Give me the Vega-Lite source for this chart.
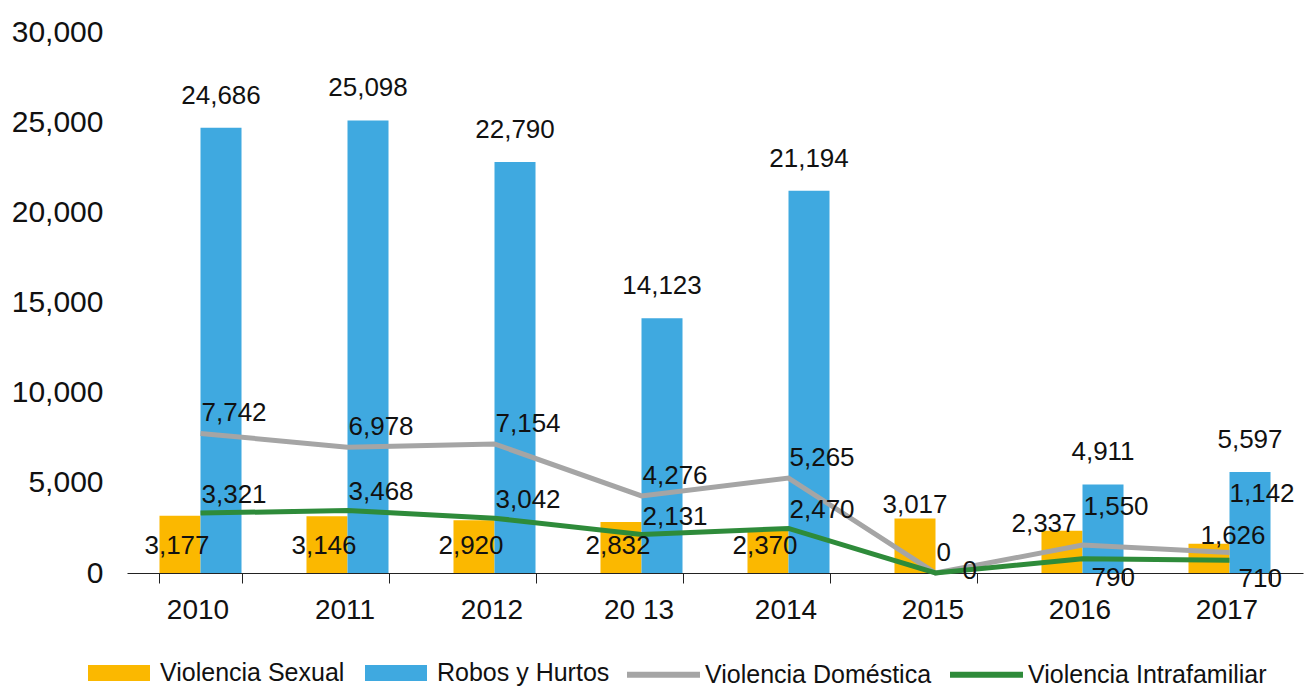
{
  "$schema": "https://vega.github.io/schema/vega-lite/v6.json",
  "width": 1176,
  "height": 541,
  "autosize": {"type": "none"},
  "padding": {"left": 127, "top": 32, "right": 3, "bottom": 114},
  "background": "white",
  "config": {
    "view": {"stroke": null},
    "font": "Liberation Sans, Arial, sans-serif",
    "text": {"font": "Liberation Sans, Arial, sans-serif", "fontSize": 26, "fill": "#111111"}
  },
  "data": {
    "values": [
      {"anio": "2010", "serie": "Violencia Sexual", "valor": 3177},
      {"anio": "2011", "serie": "Violencia Sexual", "valor": 3146},
      {"anio": "2012", "serie": "Violencia Sexual", "valor": 2920},
      {"anio": "20 13", "serie": "Violencia Sexual", "valor": 2832},
      {"anio": "2014", "serie": "Violencia Sexual", "valor": 2370},
      {"anio": "2015", "serie": "Violencia Sexual", "valor": 3017},
      {"anio": "2016", "serie": "Violencia Sexual", "valor": 2337},
      {"anio": "2017", "serie": "Violencia Sexual", "valor": 1626},
      {"anio": "2010", "serie": "Robos y Hurtos", "valor": 24686},
      {"anio": "2011", "serie": "Robos y Hurtos", "valor": 25098},
      {"anio": "2012", "serie": "Robos y Hurtos", "valor": 22790},
      {"anio": "20 13", "serie": "Robos y Hurtos", "valor": 14123},
      {"anio": "2014", "serie": "Robos y Hurtos", "valor": 21194},
      {"anio": "2016", "serie": "Robos y Hurtos", "valor": 4911},
      {"anio": "2017", "serie": "Robos y Hurtos", "valor": 5597},
      {"anio": "2010", "serie": "Violencia Doméstica", "valor": 7742},
      {"anio": "2011", "serie": "Violencia Doméstica", "valor": 6978},
      {"anio": "2012", "serie": "Violencia Doméstica", "valor": 7154},
      {"anio": "20 13", "serie": "Violencia Doméstica", "valor": 4276},
      {"anio": "2014", "serie": "Violencia Doméstica", "valor": 5265},
      {"anio": "2015", "serie": "Violencia Doméstica", "valor": 0},
      {"anio": "2016", "serie": "Violencia Doméstica", "valor": 1550},
      {"anio": "2017", "serie": "Violencia Doméstica", "valor": 1142},
      {"anio": "2010", "serie": "Violencia Intrafamiliar", "valor": 3321},
      {"anio": "2011", "serie": "Violencia Intrafamiliar", "valor": 3468},
      {"anio": "2012", "serie": "Violencia Intrafamiliar", "valor": 3042},
      {"anio": "20 13", "serie": "Violencia Intrafamiliar", "valor": 2131},
      {"anio": "2014", "serie": "Violencia Intrafamiliar", "valor": 2470},
      {"anio": "2015", "serie": "Violencia Intrafamiliar", "valor": 0},
      {"anio": "2016", "serie": "Violencia Intrafamiliar", "valor": 790},
      {"anio": "2017", "serie": "Violencia Intrafamiliar", "valor": 710}
    ]
  },
  "encoding": {
    "x": {
      "field": "anio",
      "type": "nominal",
      "sort": ["2010", "2011", "2012", "20 13", "2014", "2015", "2016", "2017"],
      "scale": {"paddingInner": 0.442, "paddingOuter": 0.221},
      "axis": {
        "title": null,
        "labelAngle": 0,
        "labelFontSize": 28,
        "labelColor": "#111111",
        "labelPadding": 13,
        "labelOffset": -3,
        "domain": true,
        "domainColor": "#222222",
        "domainWidth": 1.2,
        "ticks": true,
        "tickColor": "#222222",
        "tickSize": 10,
        "tickBand": "extent",
        "grid": false
      }
    }
  },
  "layer": [
    {
      "transform": [{"filter": {"field": "serie", "oneOf": ["Violencia Sexual", "Robos y Hurtos"]}}],
      "mark": {"type": "bar"},
      "encoding": {
        "xOffset": {"field": "serie", "type": "nominal", "scale": {"domain": ["Violencia Sexual", "Robos y Hurtos"]}},
        "y": {
          "field": "valor",
          "type": "quantitative",
          "scale": {"domain": [0, 30000], "nice": false},
          "axis": {
            "title": null,
            "values": [0, 5000, 10000, 15000, 20000, 25000, 30000],
            "format": ",.0f",
            "labelFontSize": 30,
            "labelColor": "#111111",
            "labelPadding": 24,
            "domain": false,
            "ticks": false,
            "grid": false
          }
        },
        "fill": {
          "field": "serie",
          "type": "nominal",
          "scale": {"domain": ["Violencia Sexual", "Robos y Hurtos"], "range": ["#FBB800", "#3FA9E0"]},
          "legend": {
            "title": null,
            "orient": "none",
            "legendX": -39,
            "legendY": 610,
            "direction": "horizontal",
            "padding": 0,
            "symbolType": "M-1,-0.26L1,-0.26L1,0.26L-1,0.26Z",
            "symbolSize": 3844,
            "symbolStrokeWidth": 0,
            "labelFontSize": 25,
            "labelColor": "#111111",
            "labelOffset": 10,
            "columnPadding": 20,
            "labelLimit": 400
          }
        }
      }
    },
    {
      "transform": [{"filter": {"field": "serie", "oneOf": ["Violencia Doméstica", "Violencia Intrafamiliar"]}}],
      "mark": {"type": "line", "strokeWidth": 5},
      "encoding": {
        "y": {"field": "valor", "type": "quantitative"},
        "stroke": {
          "field": "serie",
          "type": "nominal",
          "scale": {"domain": ["Violencia Doméstica", "Violencia Intrafamiliar"], "range": ["#A5A5A5", "#2E8B3A"]},
          "legend": {
            "title": null,
            "orient": "none",
            "legendX": 497,
            "legendY": 603,
            "direction": "horizontal",
            "padding": 0,
            "symbolType": "stroke",
            "symbolSize": 5329,
            "symbolStrokeWidth": 6,
            "labelFontSize": 25,
            "labelColor": "#111111",
            "labelOffset": 2,
            "columnPadding": 6,
            "labelLimit": 400
          }
        }
      }
    },
    {
      "transform": [{"filter": {"field": "serie", "equal": "Robos y Hurtos"}}],
      "mark": {"type": "text", "baseline": "alphabetic", "dy": -24},
      "encoding": {
        "xOffset": {"field": "serie", "type": "nominal", "scale": {"domain": ["Violencia Sexual", "Robos y Hurtos"]}},
        "y": {"field": "valor", "type": "quantitative"},
        "text": {"field": "valor", "type": "quantitative", "format": ","}
      }
    },
    {
      "transform": [
        {"filter": {"field": "serie", "equal": "Violencia Sexual"}},
        {"filter": {"field": "anio", "oneOf": ["2010", "2011", "2012", "20 13", "2014"]}}
      ],
      "mark": {"type": "text", "baseline": "middle", "dx": -3},
      "encoding": {
        "xOffset": {"field": "serie", "type": "nominal", "scale": {"domain": ["Violencia Sexual", "Robos y Hurtos"]}},
        "y": {"datum": 1500, "type": "quantitative"},
        "text": {"field": "valor", "type": "quantitative", "format": ","}
      }
    },
    {
      "transform": [
        {"filter": {"field": "serie", "equal": "Violencia Sexual"}},
        {"filter": {"field": "anio", "equal": "2015"}}
      ],
      "mark": {"type": "text", "baseline": "alphabetic", "dy": -6},
      "encoding": {
        "xOffset": {"field": "serie", "type": "nominal", "scale": {"domain": ["Violencia Sexual", "Robos y Hurtos"]}},
        "y": {"field": "valor", "type": "quantitative"},
        "text": {"field": "valor", "type": "quantitative", "format": ","}
      }
    },
    {
      "transform": [
        {"filter": {"field": "serie", "equal": "Violencia Sexual"}},
        {"filter": {"field": "anio", "equal": "2016"}}
      ],
      "mark": {"type": "text", "baseline": "alphabetic", "dy": 1, "dx": -18},
      "encoding": {
        "xOffset": {"field": "serie", "type": "nominal", "scale": {"domain": ["Violencia Sexual", "Robos y Hurtos"]}},
        "y": {"field": "valor", "type": "quantitative"},
        "text": {"field": "valor", "type": "quantitative", "format": ","}
      }
    },
    {
      "transform": [
        {"filter": {"field": "serie", "equal": "Violencia Sexual"}},
        {"filter": {"field": "anio", "equal": "2017"}}
      ],
      "mark": {"type": "text", "baseline": "alphabetic", "dy": 0, "dx": 24},
      "encoding": {
        "xOffset": {"field": "serie", "type": "nominal", "scale": {"domain": ["Violencia Sexual", "Robos y Hurtos"]}},
        "y": {"field": "valor", "type": "quantitative"},
        "text": {"field": "valor", "type": "quantitative", "format": ","}
      }
    },
    {
      "transform": [
        {"filter": {"field": "serie", "equal": "Violencia Doméstica"}},
        {"filter": {"field": "anio", "oneOf": ["2010", "2011", "2012", "20 13", "2014", "2015"]}}
      ],
      "mark": {"type": "text", "align": "left", "baseline": "alphabetic", "dy": -12, "dx": 1},
      "encoding": {
        "y": {"field": "valor", "type": "quantitative"},
        "text": {"field": "valor", "type": "quantitative", "format": ","}
      }
    },
    {
      "transform": [
        {"filter": {"field": "serie", "equal": "Violencia Doméstica"}},
        {"filter": {"field": "anio", "equal": "2016"}}
      ],
      "mark": {"type": "text", "align": "left", "baseline": "alphabetic", "dy": -30, "dx": 1},
      "encoding": {
        "y": {"field": "valor", "type": "quantitative"},
        "text": {"field": "valor", "type": "quantitative", "format": ","}
      }
    },
    {
      "transform": [
        {"filter": {"field": "serie", "equal": "Violencia Doméstica"}},
        {"filter": {"field": "anio", "equal": "2017"}}
      ],
      "mark": {"type": "text", "align": "left", "baseline": "alphabetic", "dy": -50, "dx": 0},
      "encoding": {
        "y": {"field": "valor", "type": "quantitative"},
        "text": {"field": "valor", "type": "quantitative", "format": ","}
      }
    },
    {
      "transform": [
        {"filter": {"field": "serie", "equal": "Violencia Intrafamiliar"}},
        {"filter": {"field": "anio", "oneOf": ["2010", "2011", "2012", "20 13", "2014"]}}
      ],
      "mark": {"type": "text", "align": "left", "baseline": "alphabetic", "dy": -10, "dx": 1},
      "encoding": {
        "y": {"field": "valor", "type": "quantitative"},
        "text": {"field": "valor", "type": "quantitative", "format": ","}
      }
    },
    {
      "transform": [
        {"filter": {"field": "serie", "equal": "Violencia Intrafamiliar"}},
        {"filter": {"field": "anio", "equal": "2015"}}
      ],
      "mark": {"type": "text", "align": "left", "baseline": "middle", "dx": 27, "dy": -2},
      "encoding": {
        "y": {"field": "valor", "type": "quantitative"},
        "text": {"field": "valor", "type": "quantitative", "format": ","}
      }
    },
    {
      "transform": [
        {"filter": {"field": "serie", "equal": "Violencia Intrafamiliar"}},
        {"filter": {"field": "anio", "oneOf": ["2016", "2017"]}}
      ],
      "mark": {"type": "text", "align": "left", "baseline": "top", "dx": 9, "dy": 6},
      "encoding": {
        "y": {"field": "valor", "type": "quantitative"},
        "text": {"field": "valor", "type": "quantitative", "format": ","}
      }
    }
  ]
}
